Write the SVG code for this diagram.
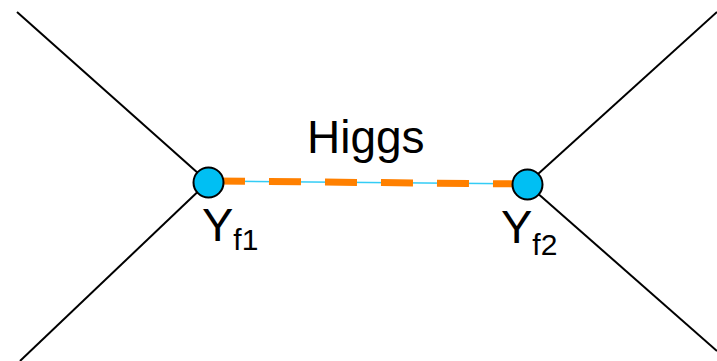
<svg xmlns="http://www.w3.org/2000/svg" width="717" height="361" viewBox="0 0 717 361">
  <style>
    .leg { stroke: #000; stroke-width: 2; fill: none; }
    .vertex { fill: #00BFF3; stroke: #000; stroke-width: 2; }
    .lbl { font-family: "Liberation Sans", Arial, sans-serif; fill: #000; }
  </style>
  <rect width="717" height="361" fill="#fff"/>
  <g id="connectors">
    <line class="leg" x1="17" y1="12" x2="208" y2="182"/>
    <line class="leg" x1="20" y1="361" x2="208" y2="182"/>
    <line class="leg" x1="717" y1="12" x2="527" y2="184"/>
    <line class="leg" x1="717" y1="351" x2="527" y2="184"/>
    <!-- Higgs propagator: thin cyan core with orange dashes -->
    <line x1="213" y1="181" x2="525" y2="184" stroke="#33CCF5" stroke-width="1.5"/>
    <line x1="213" y1="181" x2="525" y2="184" stroke="#FF8000" stroke-width="7" stroke-dasharray="32 24"/>
  </g>
  <g id="higgs-label">
    <text class="lbl" x="307" y="153" font-size="46">Higgs</text>
  </g>
  <g id="vertex-f1">
    <circle class="vertex" cx="208.5" cy="182.5" r="15"/>
    <text class="lbl" x="202" y="241" font-size="47">Y<tspan font-size="30" dy="9">f1</tspan></text>
  </g>
  <g id="vertex-f2">
    <circle class="vertex" cx="527.5" cy="184.5" r="15"/>
    <text class="lbl" x="501" y="243" font-size="47">Y<tspan font-size="30" dy="12">f2</tspan></text>
  </g>
</svg>
